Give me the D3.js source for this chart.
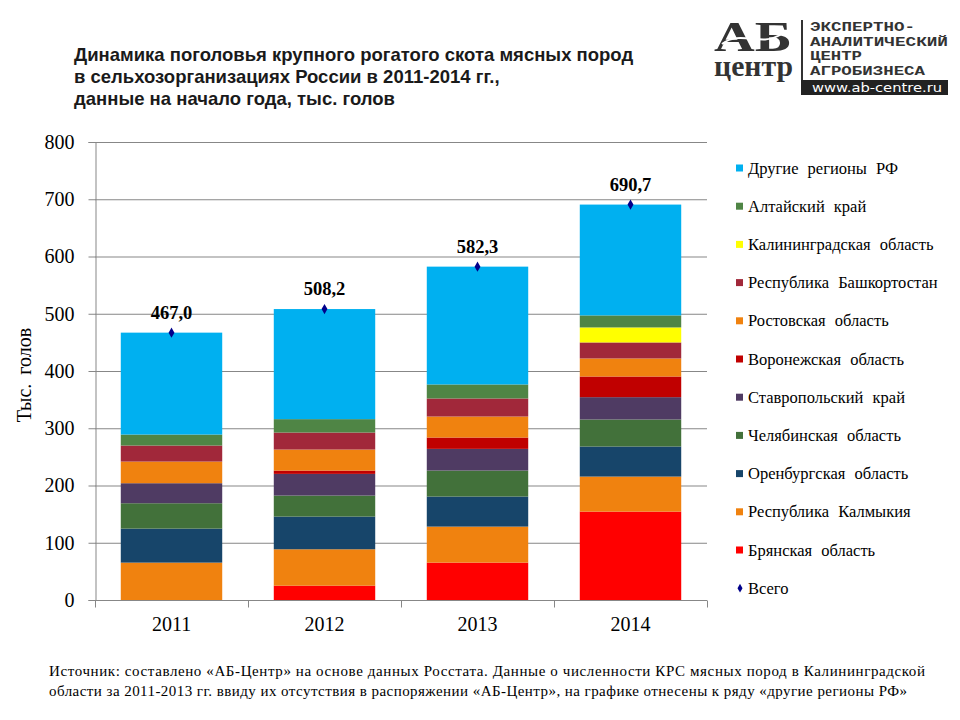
<!DOCTYPE html>
<html><head><meta charset="utf-8">
<script src="https://cdn.jsdelivr.net/npm/d3@7"></script>
<style>body{margin:0;background:#fff}svg{display:block}</style>
</head><body>
<svg id="c" width="960" height="720"></svg>
<script>
const years = ["2011","2012","2013","2014"];
const seriesNames = ["Брянская область","Республика Калмыкия","Оренбургская область","Челябинская область","Ставропольский край","Воронежская область","Ростовская область","Республика Башкортостан","Калининградская область","Алтайский край","Другие регионы РФ"];
const bryansk      = [0, 25.0, 65.3, 154.4];
const kalmykia     = [65.3, 63.6, 62.9, 61.2];
const orenburg     = [59.4, 57.1, 52.5, 52.5];
const chelyabinsk  = [44.3, 36.7, 45.4, 47.2];
const stavropol    = [35.0, 37.9, 37.9, 39.0];
const voronezh     = [0, 5.8, 19.8, 36.1];
const rostov       = [37.8, 36.7, 36.7, 31.5];
const bashkortostan= [28.0, 29.7, 31.5, 28.0];
const kaliningrad  = [0, 0, 0, 26.2];
const altai        = [19.2, 23.4, 24.5, 21.0];
const other        = [178.0, 192.3, 205.8, 193.6];
const totals       = [467.0, 508.2, 582.3, 690.7];
const totalLabels  = ["467,0","508,2","582,3","690,7"];
const yTicks       = [0,100,200,300,400,500,600,700,800];
const seriesValues = [bryansk,kalmykia,orenburg,chelyabinsk,stavropol,voronezh,rostov,bashkortostan,kaliningrad,altai,other];
const colors = ["#FF0000","#F0820F","#17456A","#42713A","#4F3B63","#C00000","#F0820F","#A1283A","#FFFF00","#4F8545","#00B0F0"];
const legendOrder = [10,9,8,7,6,5,4,3,2,1,0];

const SERIF = "'Liberation Serif', 'Times New Roman', serif";
const SANS = "'Liberation Sans', Arial, sans-serif";
const svg = d3.select("#c");
const x = d3.scaleBand().domain(years).range([95,707]).paddingInner(0.337).paddingOuter(0.1685);
const y = d3.scaleLinear().domain([0,800]).range([600,142]);

// title
const title = ["Динамика поголовья крупного рогатого скота мясных пород","в сельхозорганизациях России в 2011-2014 гг.,","данные на начало года, тыс. голов"];
svg.append("g").selectAll("text").data(title).join("text")
  .attr("x",74).attr("y",(d,i)=>61+i*22)
  .attr("font-family",SANS).attr("font-weight","bold")
  .attr("font-size",18.5).attr("fill","#1a1a1a").text(d=>d);

// gridlines
svg.append("g").selectAll("line").data(yTicks.filter(d=>d>0)).join("line")
  .attr("x1",95).attr("x2",707).attr("y1",d=>y(d)+0.5).attr("y2",d=>y(d)+0.5)
  .attr("stroke","#878787").attr("stroke-width",1);

// stacked data
const table = years.map((yr,i)=>{const o={year:yr}; seriesNames.forEach((n,j)=>o[n]=seriesValues[j][i]); return o;});
const stack = d3.stack().keys(seriesNames)(table);
svg.append("g").selectAll("g").data(stack).join("g").attr("fill",(d,i)=>colors[i])
  .selectAll("rect").data(d=>d).join("rect")
  .attr("x",d=>x(d.data.year)).attr("width",x.bandwidth())
  .attr("y",d=>y(d[1])).attr("height",d=>y(d[0])-y(d[1]));

// axes
const yAxis = svg.append("g").attr("transform","translate(95.5,0)")
  .call(d3.axisLeft(y).tickValues(yTicks).tickSize(7).tickPadding(14).tickFormat(d3.format("d")));
yAxis.select(".domain").attr("stroke","#878787");
yAxis.selectAll(".tick line").attr("stroke","#878787");
yAxis.selectAll("text").attr("font-family",SERIF).attr("font-size",20).attr("fill","#000");

const xAxis = svg.append("g").attr("transform","translate(0,600.5)")
  .call(d3.axisBottom(x).tickSize(0).tickPadding(16));
xAxis.select(".domain").attr("stroke","#878787").attr("d","M95,0H707");
xAxis.selectAll("text").attr("font-family",SERIF).attr("font-size",20).attr("fill","#000");
const bounds = [0,1,2,3,4].map(i=>95 + i*x.step());
xAxis.selectAll(".bnd").data(bounds).join("line").attr("class","bnd")
  .attr("x1",d=>d+0.5).attr("x2",d=>d+0.5).attr("y1",0).attr("y2",7).attr("stroke","#878787");

// y title
svg.append("text").attr("transform","translate(31,375) rotate(-90)").attr("text-anchor","middle")
  .attr("font-family",SERIF).attr("font-size",20).attr("word-spacing",4).text("Тыс. голов");

// totals markers
const diamond = d3.symbol().type(d3.symbolDiamond).size(30);
svg.append("g").selectAll("path").data(totals).join("path")
  .attr("d",diamond).attr("fill","#00008B")
  .attr("transform",(d,i)=>`translate(${x(years[i])+x.bandwidth()/2},${y(d)})`);
svg.append("g").selectAll("text").data(totals).join("text")
  .attr("x",(d,i)=>x(years[i])+x.bandwidth()/2).attr("y",d=>y(d)-14)
  .attr("text-anchor","middle").attr("font-family",SERIF)
  .attr("font-weight","bold").attr("font-size",18.5).text((d,i)=>totalLabels[i]);

// legend
const lg = svg.append("g");
const items = legendOrder.map(i=>({name:seriesNames[i], color:colors[i]}));
items.push({name:"Всего", color:"#00008B", marker:true});
items.forEach((it,k)=>{
  const cy = 168 + k*38.2;
  if(it.marker){
    lg.append("path").attr("d",d3.symbol().type(d3.symbolDiamond).size(22)).attr("fill",it.color).attr("transform",`translate(740,${cy})`);
  } else {
    lg.append("rect").attr("x",736).attr("y",cy-3.5).attr("width",7).attr("height",7).attr("fill",it.color);
  }
  lg.append("text").attr("x",748).attr("y",cy+5.5).attr("font-family",SERIF)
    .attr("font-size",16.5).attr("word-spacing",5).attr("fill","#000").text(it.name);
});

// footer
const foot = ["Источник: составлено «АБ-Центр» на основе данных Росстата. Данные о численности КРС мясных пород в Калининградской",
              "области за 2011-2013 гг. ввиду их отсутствия в распоряжении «АБ-Центр», на графике отнесены к ряду «другие регионы РФ»"];
const footW = [876, 858];
svg.append("g").selectAll("text").data(foot).join("text")
  .attr("x",49).attr("y",(d,i)=>676+i*19.5)
  .attr("font-family",SERIF).attr("font-size",15)
  .attr("textLength",(d,i)=>footW[i]).attr("lengthAdjust","spacing").text(d=>d);

// logo
const logo = svg.append("g").attr("fill","#333");
const mark = logo.append("text").attr("font-family",SERIF).attr("font-weight","bold");
mark.append("tspan").attr("x",714).attr("y",51).attr("font-size",42)
  .attr("textLength",78).attr("lengthAdjust","spacingAndGlyphs").text("АБ");
mark.append("tspan").attr("x",714).attr("y",76).attr("font-size",30)
  .attr("textLength",79).attr("lengthAdjust","spacingAndGlyphs").text("центр");
logo.append("path").attr("d","M722,44 C740,30 760,46 778,36 C785,32 790,30 796,31").attr("fill","none").attr("stroke","#fff").attr("stroke-width",2);
logo.append("rect").attr("x",801).attr("y",20).attr("width",2).attr("height",75).attr("fill","#333");
const lines = ["ЭКСПЕРТНО-","АНАЛИТИЧЕСКИЙ","ЦЕНТР","АГРОБИЗНЕСА"];
const lw = [105,138,52,115];
lines.forEach((t,i)=>{
  logo.append("text").attr("x",810).attr("y",31+i*14.7).attr("font-family","'Liberation Mono', monospace").attr("font-weight","bold")
    .attr("font-size",13.5).attr("textLength",lw[i]).attr("lengthAdjust","spacingAndGlyphs").text(t);
});
logo.append("rect").attr("x",801).attr("y",80).attr("width",147).attr("height",15).attr("fill","#222");
logo.append("text").attr("x",812).attr("y",92).attr("fill","#fff").attr("font-family","'DejaVu Sans', sans-serif")
  .attr("font-size",12).attr("textLength",130).attr("lengthAdjust","spacingAndGlyphs").text("www.ab-centre.ru");
</script>
</body></html>
